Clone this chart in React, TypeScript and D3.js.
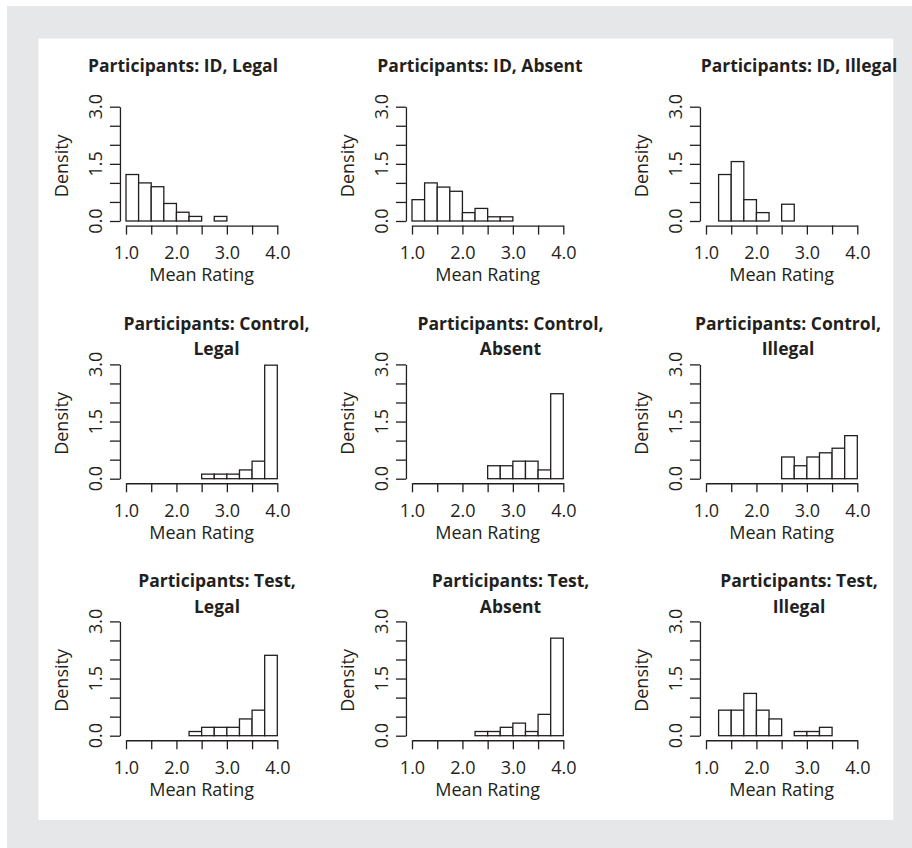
import React, { useEffect, useRef } from 'react';
import * as d3 from 'd3';

// histogram bins (lower edges), width 0.25
const binStarts = [1.0, 1.25, 1.5, 1.75, 2.0, 2.25, 2.5, 2.75, 3.0, 3.25, 3.5, 3.75];
const binWidth = 0.25;

const xTicks = [1.0, 1.5, 2.0, 2.5, 3.0, 3.5, 4.0];
const xTickLabels = ['1.0', '', '2.0', '', '3.0', '', '4.0'];
const yTicks = [0, 0.5, 1.0, 1.5, 2.0, 2.5, 3.0];
const yTickLabels = ['0.0', '', '', '1.5', '', '', '3.0'];

const groups = ['ID', 'Control', 'Test'];
const conditions = ['Legal', 'Absent', 'Illegal'];

// densities per bin
const idLegal = [1.22, 1.0, 0.9, 0.46, 0.23, 0.12, 0, 0.12, 0, 0, 0, 0];
const idAbsent = [0.56, 1.0, 0.89, 0.78, 0.22, 0.33, 0.11, 0.11, 0, 0, 0, 0];
const idIllegal = [0, 1.22, 1.56, 0.56, 0.22, 0, 0.44, 0, 0, 0, 0, 0];
const controlLegal = [0, 0, 0, 0, 0, 0, 0.12, 0.12, 0.12, 0.23, 0.46, 2.98];
const controlAbsent = [0, 0, 0, 0, 0, 0, 0.34, 0.34, 0.46, 0.46, 0.23, 2.23];
const controlIllegal = [0, 0, 0, 0, 0, 0, 0.57, 0.34, 0.57, 0.68, 0.8, 1.13];
const testLegal = [0, 0, 0, 0, 0, 0.11, 0.22, 0.22, 0.22, 0.44, 0.67, 2.11];
const testAbsent = [0, 0, 0, 0, 0, 0.11, 0.11, 0.22, 0.33, 0.11, 0.56, 2.56];
const testIllegal = [0, 0.67, 0.67, 1.11, 0.67, 0.44, 0, 0.11, 0.11, 0.22, 0, 0];

const densities = [
  [idLegal, idAbsent, idIllegal],
  [controlLegal, controlAbsent, controlIllegal],
  [testLegal, testAbsent, testIllegal],
];

// layout
const W = 912, H = 848;
const colX0 = [126, 412, 706];
const rowZero = [221, 478.7, 735.7];
const xSpan = 151.3;
const ySpan = 114.3;
const titleCx = [
  [183, 480, 799],
  [216.5, 510.5, 788],
  [217, 510.5, 799],
];
const titleBase = [[72], [330, 355], [587, 613]];
const ink = '#231f20';
const font = "'Open Sans', 'DejaVu Sans', sans-serif";

const App = () => {
  const ref = useRef(null);

  useEffect(() => {
    const svg = d3.select(ref.current);
    svg.selectAll('*').remove();

    svg.append('rect').attr('x', 7).attr('y', 6).attr('width', W).attr('height', H).attr('fill', '#e6e7e8');
    svg.append('rect').attr('x', 38.5).attr('y', 38.5).attr('width', 893.3 - 38.5).attr('height', 820 - 38.5).attr('fill', '#ffffff');

    groups.forEach((group, r) => {
      conditions.forEach((cond, c) => {
        const x = d3.scaleLinear().domain([1, 4]).range([colX0[c], colX0[c] + xSpan]);
        const y = d3.scaleLinear().domain([0, 3]).range([rowZero[r], rowZero[r] - ySpan]);
        const axisX = x(1 - 0.12);
        const axisY = y(-0.12);
        const g = svg.append('g');

        // title
        const lines = r === 0 ? [`Participants: ${group}, ${cond}`] : [`Participants: ${group},`, cond];
        lines.forEach((t, i) => {
          g.append('text')
            .attr('x', titleCx[r][c])
            .attr('y', titleBase[r][i])
            .attr('text-anchor', 'middle')
            .attr('font-family', font)
            .attr('font-weight', 700)
            .attr('font-size', 17.5)
            .attr('fill', ink)
            .text(t);
        });

        // bars
        const vals = densities[r][c];
        g.selectAll('rect.bar')
          .data(binStarts)
          .join('rect')
          .attr('class', 'bar')
          .attr('x', d => x(d))
          .attr('width', d => x(d + binWidth) - x(d))
          .attr('y', (d, i) => y(vals[i]))
          .attr('height', (d, i) => y(0) - y(vals[i]))
          .attr('fill', '#fff')
          .attr('stroke', ink)
          .attr('stroke-width', 1.3);

        // x axis
        const xa = g.append('g')
          .attr('transform', `translate(0,${axisY})`)
          .call(d3.axisBottom(x).tickValues(xTicks).tickSize(9).tickSizeOuter(0).tickFormat((d, i) => xTickLabels[i]));
        xa.select('.domain').attr('stroke', ink).attr('stroke-width', 1.3);
        xa.selectAll('line').attr('stroke', ink).attr('stroke-width', 1.3);
        xa.selectAll('text')
          .attr('y', 33.5).attr('dy', null)
          .attr('font-family', font).attr('font-size', 18).attr('fill', ink);

        // y axis
        const ya = g.append('g')
          .attr('transform', `translate(${axisX},0)`)
          .call(d3.axisLeft(y).tickValues(yTicks).tickSize(10).tickSizeOuter(0).tickFormat(() => ''));
        ya.select('.domain').attr('stroke', ink).attr('stroke-width', 1.3);
        ya.selectAll('line').attr('stroke', ink).attr('stroke-width', 1.3);
        yTicks.forEach((v, i) => {
          if (!yTickLabels[i]) return;
          g.append('text')
            .attr('transform', `translate(${axisX - 18},${y(v)}) rotate(-90)`)
            .attr('text-anchor', 'middle')
            .attr('font-family', font).attr('font-size', 18).attr('fill', ink)
            .text(yTickLabels[i]);
        });

        // axis titles
        g.append('text')
          .attr('x', x(2.5)).attr('y', rowZero[r] + 60)
          .attr('text-anchor', 'middle')
          .attr('font-family', font).attr('font-size', 18).attr('fill', ink)
          .text('Mean Rating');
        g.append('text')
          .attr('transform', `translate(${axisX - 52},${y(1.45)}) rotate(-90)`)
          .attr('text-anchor', 'middle')
          .attr('font-family', font).attr('font-size', 18).attr('fill', ink)
          .text('Density');
      });
    });
  });

  return (
    <svg ref={ref} width={W} height={H} viewBox={`0 0 ${W} ${H}`}
      style={{ position: 'absolute', left: 0, top: 0, display: 'block' }} />
  );
};

export default App;
